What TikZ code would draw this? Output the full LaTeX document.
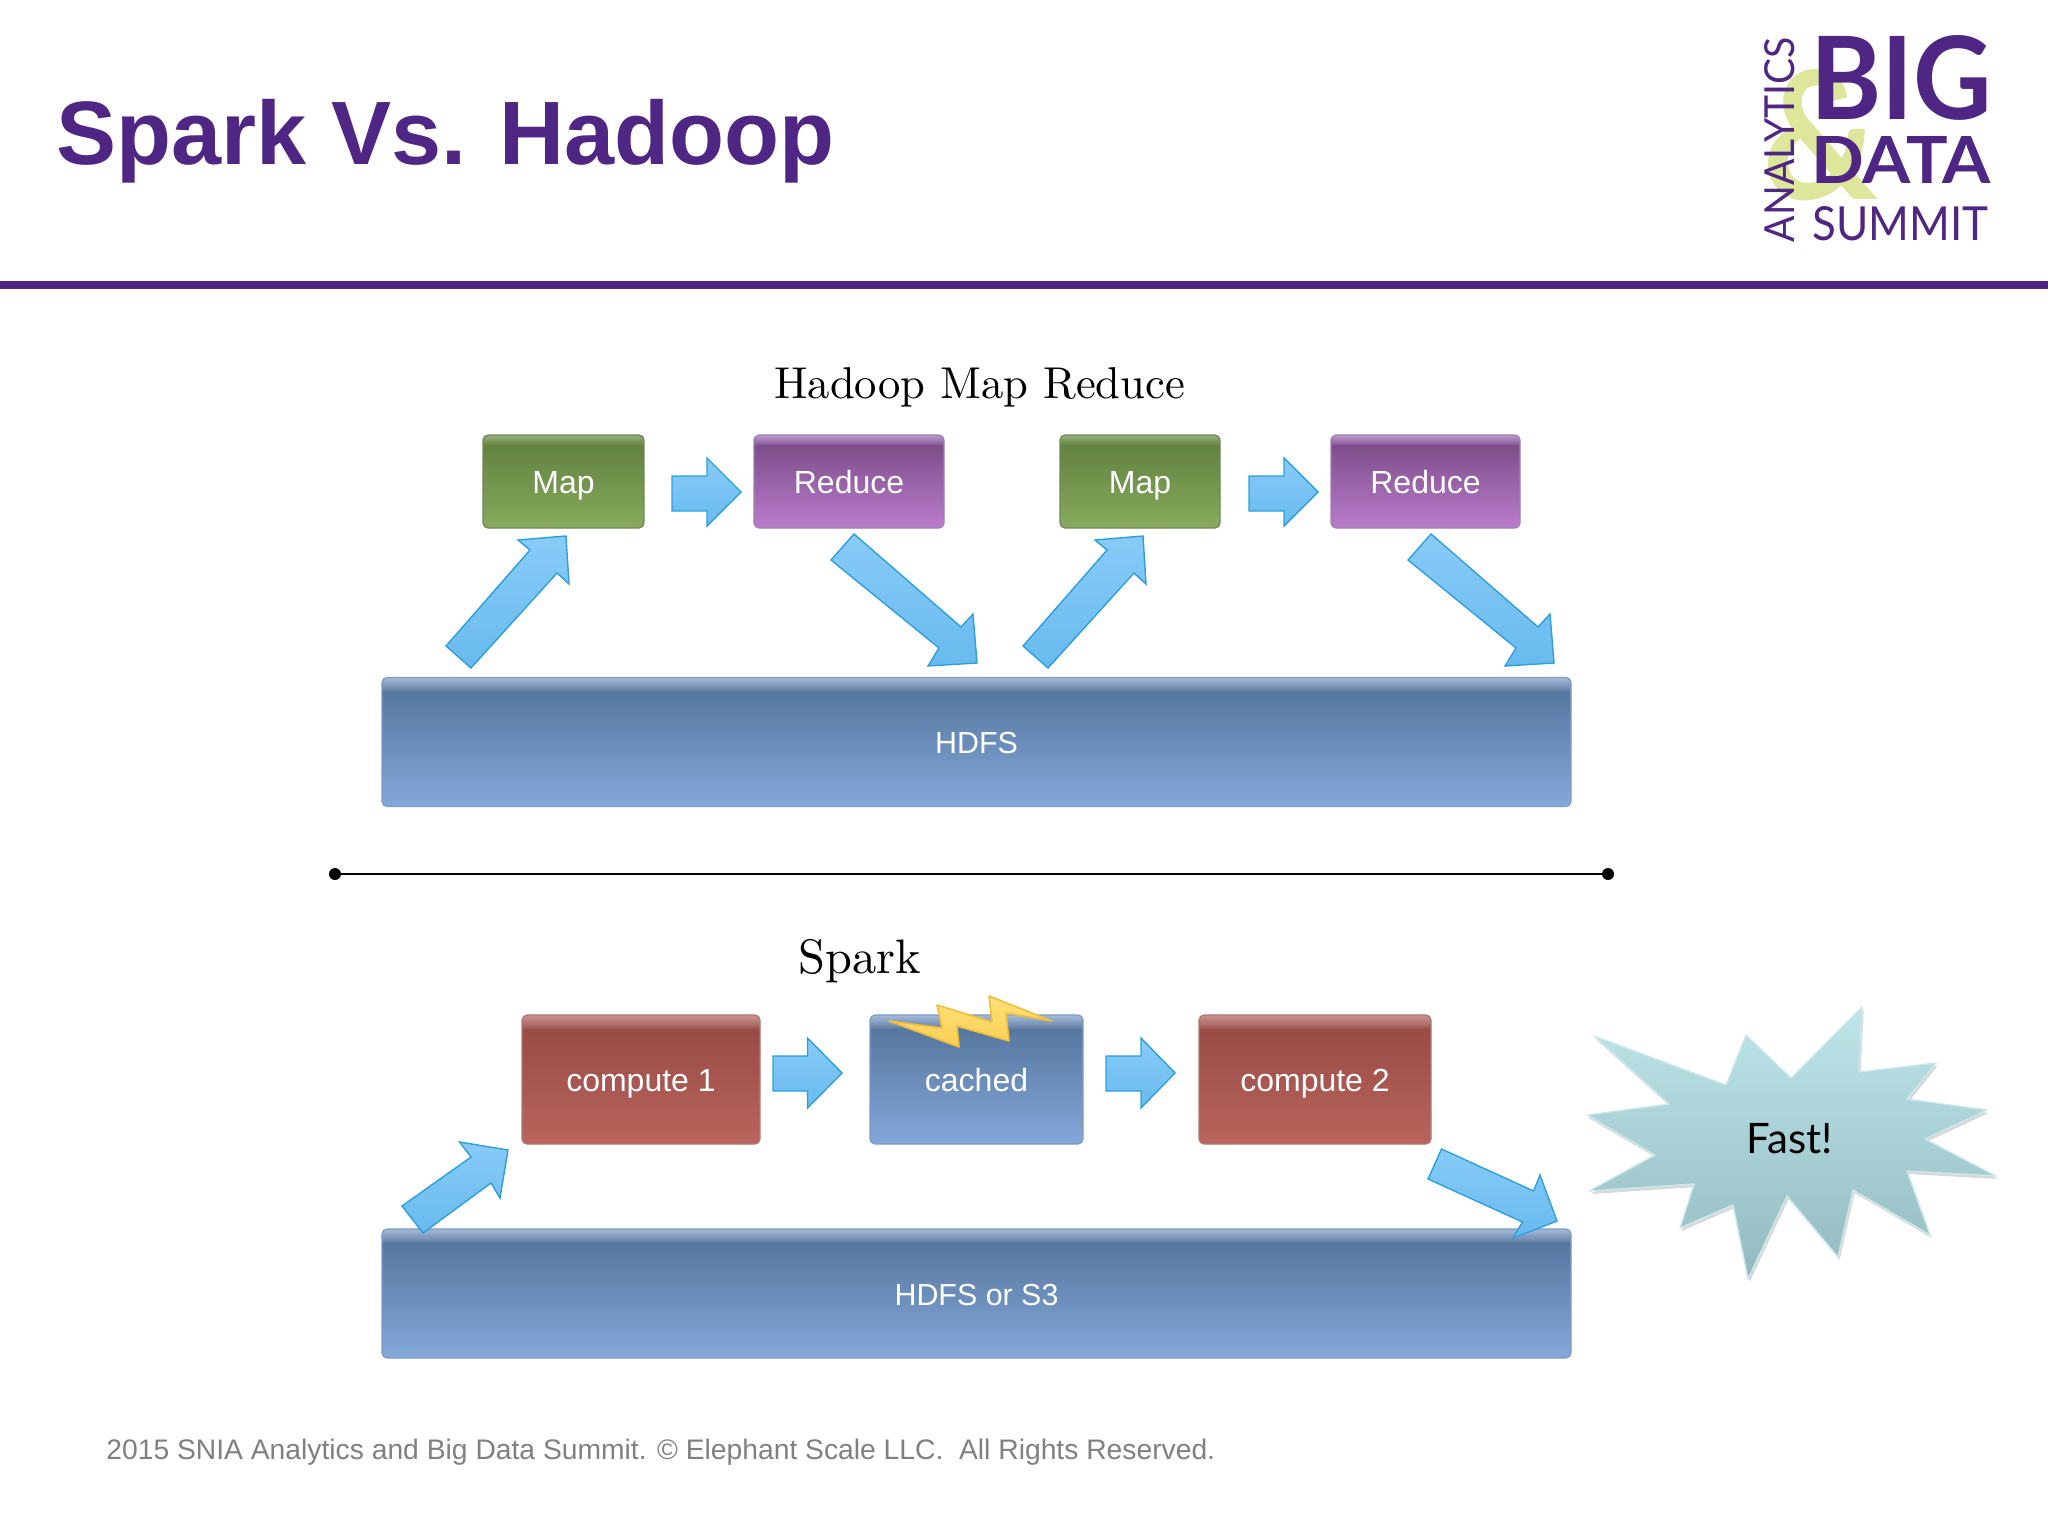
\documentclass[tikz,border=0pt]{standalone}
\usepackage{fontspec}
\usepackage{graphicx}
\setmainfont{Liberation Sans}
\newfontfamily\serifhead[Extension=.otf]{lmroman10-regular}
\newfontfamily\logofont{Lato}
\usetikzlibrary{shadows}
\definecolor{brandpurple}{HTML}{4F2683}
\definecolor{logolime}{HTML}{DDE69B}
\definecolor{footgray}{HTML}{808080}
\definecolor{arrowline}{HTML}{2F9FDC}
\definecolor{arrowtop}{RGB}{136,203,248}
\definecolor{arrowbot}{RGB}{104,186,238}
\definecolor{grnlow}{RGB}{135,170,93}
\definecolor{grndark}{RGB}{99,131,64}
\definecolor{grnmid}{RGB}{115,145,82}
\definecolor{grnhi}{RGB}{150,175,125}
\definecolor{grnline}{RGB}{110,135,85}
\definecolor{purlow}{RGB}{186,124,203}
\definecolor{purdark}{RGB}{126,78,140}
\definecolor{purmid}{RGB}{150,105,165}
\definecolor{purhi}{RGB}{190,150,205}
\definecolor{purline}{RGB}{160,125,180}
\definecolor{redlow}{RGB}{185,101,94}
\definecolor{reddark}{RGB}{153,75,69}
\definecolor{redmid}{RGB}{170,105,100}
\definecolor{redhi}{RGB}{200,145,140}
\definecolor{redline}{RGB}{175,120,115}
\definecolor{blulow}{RGB}{132,168,218}
\definecolor{bludark}{RGB}{86,119,159}
\definecolor{blumid}{RGB}{115,142,178}
\definecolor{bluhi}{RGB}{165,186,216}
\definecolor{bluline}{RGB}{125,155,195}
\definecolor{boltline}{RGB}{240,190,60}
\definecolor{bolttop}{RGB}{255,226,120}
\definecolor{boltbot}{RGB}{252,205,85}
\definecolor{starline}{RGB}{205,232,234}
\definecolor{startop}{RGB}{190,230,233}
\definecolor{starbot}{RGB}{146,186,192}
\pgfdeclareverticalshading{grnbox}{100bp}{color(0bp)=(grnlow); color(25bp)=(grnlow); color(69.5bp)=(grndark); color(71bp)=(grnmid); color(75bp)=(grnhi); color(100bp)=(grnhi)}
\pgfdeclareverticalshading{purbox}{100bp}{color(0bp)=(purlow); color(25bp)=(purlow); color(69.5bp)=(purdark); color(71bp)=(purmid); color(75bp)=(purhi); color(100bp)=(purhi)}
\pgfdeclareverticalshading{redbox}{100bp}{color(0bp)=(redlow); color(25bp)=(redlow); color(69.5bp)=(reddark); color(71bp)=(redmid); color(75bp)=(redhi); color(100bp)=(redhi)}
\pgfdeclareverticalshading{blubox}{100bp}{color(0bp)=(blulow); color(25bp)=(blulow); color(69.5bp)=(bludark); color(71bp)=(blumid); color(75bp)=(bluhi); color(100bp)=(bluhi)}
\newcommand{\fitbox}[3]{\resizebox{#1pt}{#2pt}{#3}}
\tikzset{
  x=0.5pt,y=-0.5pt,
  flowbox/.style={rectangle,rounded corners=2.5pt,shade,inner sep=0pt,text=white,
    font=\fontsize{16}{18}\selectfont,line width=0.6pt,text height=11.5pt,text depth=0pt},
  grnstyle/.style={flowbox,shading=grnbox,draw=grnline},
  purstyle/.style={flowbox,shading=purbox,draw=purline},
  redstyle/.style={flowbox,shading=redbox,draw=redline},
  blustyle/.style={flowbox,shading=blubox,draw=bluline},
  storestyle/.style={blustyle,font=\fontsize{15.2}{18}\selectfont},
  blockarrow/.style={draw=arrowline,line width=0.7pt,line join=miter,top color=arrowtop,bottom color=arrowbot},
  heading/.style={text=black,inner sep=0pt,anchor=base west},
  logotext/.style={inner sep=0pt,anchor=south west,text=brandpurple,font=\logofont},
}
\begin{document}
\begin{tikzpicture}
\useasboundingbox (0,0) rectangle (2048,1536);
\fill[white] (0,0) rectangle (2048,1536);
% header
\node[inner sep=0pt,anchor=base west,text=brandpurple,font=\bfseries\fontsize{45}{50}\selectfont] (title) at (56,164) {Spark Vs. Hadoop};
\fill[brandpurple] (0,281) rectangle (2048,289);
% logo
\node[inner sep=0pt,anchor=center,text=logolime,font=\logofont\bfseries] (amp) at (1820,135) {\fitbox{58}{65}{\&}};
\node[logotext] (big) at (1810,121) {\fitbox{91}{42}{\textbf{BIG}}};
\node[logotext] (data) at (1811,184) {\fitbox{90}{23.5}{\textbf{DATA}}};
\node[logotext] (summit) at (1812,241) {\fitbox{88}{17}{SUMMIT}};
\node[logotext,anchor=center,rotate=90] (analytics) at (1780,139.5) {\fitbox{102.5}{15}{ANALYTICS}};
% Hadoop
\node[heading,font=\serifhead\fontsize{22.3}{26}\selectfont] (hadoophead) at (774,398) {Hadoop Map Reduce};
\node[grnstyle,minimum width=80.5pt,minimum height=46.5pt] (map1) at (563.5,481.5) {Map};
\node[purstyle,minimum width=95pt,minimum height=46.5pt] (red1) at (849,481.5) {Reduce};
\node[grnstyle,minimum width=80pt,minimum height=46.5pt] (map2) at (1140,481.5) {Map};
\node[purstyle,minimum width=94.5pt,minimum height=46.5pt] (red2) at (1425.5,481.5) {Reduce};
\node[storestyle,minimum width=594.5pt,minimum height=64.5pt] (hdfs) at (976.5,742) {HDFS};
\foreach \dx in {0,577}{
  \begin{scope}[xshift=\dx*0.5pt]
  \draw[blockarrow] (446,646)--(471,668)--(557,573)--(569,584)--(566,536)--(518,540)--(530,550)--cycle;
  \draw[blockarrow] (854,534)--(831,560)--(939,648)--(928,666)--(977,663)--(973,614)--(961,627)--cycle;
  \draw[blockarrow] (672,476)--(707,476)--(707,458)--(741,492)--(707,526)--(707,511)--(672,511)--cycle;
  \end{scope}
}
% divider
\coordinate (dl) at (335,874);
\coordinate (dr) at (1608,874);
\draw[black,line width=1pt] (dl)--(dr);
\fill[black] (dl) circle (3pt);
\fill[black] (dr) circle (3pt);
% Spark
\node[heading,font=\serifhead\fontsize{24.2}{26}\selectfont] (sparkhead) at (798,973) {Spark};
\node[redstyle,minimum width=119pt,minimum height=64.5pt] (comp1) at (641,1079.5) {compute 1};
\node[blustyle,minimum width=106.5pt,minimum height=64.5pt] (cached) at (976.5,1079.5) {cached};
\node[redstyle,minimum width=116pt,minimum height=64.5pt] (comp2) at (1315,1079.5) {compute 2};
\node[storestyle,minimum width=594.5pt,minimum height=64.5pt] (hdfss) at (976.5,1293.5) {HDFS or S3};
\draw[blockarrow] (773,1056)--(807.5,1056)--(807.5,1038)--(842,1073)--(807.5,1108)--(807.5,1091)--(773,1091)--cycle;
\draw[blockarrow] (1106,1056)--(1141,1056)--(1141,1038)--(1175,1073)--(1141,1108)--(1141,1091)--(1106,1091)--cycle;
\draw[blockarrow] (402,1206)--(423,1233)--(491,1183)--(500,1198)--(508,1150)--(459.5,1142)--(471,1157)--cycle;
\draw[blockarrow] (1441.5,1149)--(1428,1179)--(1522.5,1222)--(1513,1238)--(1557,1221)--(1540,1175)--(1533.6,1191)--cycle;
% lightning
\draw[draw=boltline,line width=0.8pt,line join=round,top color=bolttop,bottom color=boltbot]
 (889,1021)--(942,1028)--(937,1005)--(992,1022)--(989,996)--(1052,1021)--(1006,1013)--(1009,1041)--(957,1026)--(959,1047)--cycle;
% star
\draw[draw=starline,line width=0.7pt,line join=round,top color=startop,bottom color=starbot,drop shadow={shadow xshift=0.8pt,shadow yshift=-1.5pt,opacity=0.3}]
 (1862,1007)--(1859,1072)--(1936,1063)--(1907,1099)--(1987,1110)--(1925,1139)--(1996,1176)--(1907,1171)--(1930,1235)--(1853,1190)--(1838,1257)--(1787,1196)--(1748,1279)--(1733,1205)--(1680,1228)--(1694,1184)--(1589,1191)--(1655,1155)--(1587,1115)--(1669,1104)--(1594,1036)--(1726,1085)--(1746,1035)--(1791,1078)--cycle;
\node[inner sep=0pt,text=black,font=\logofont\fontsize{21}{24}\selectfont] (fast) at (1790,1139) {Fast!};
% footer
\node[inner sep=0pt,anchor=base west,text=footgray,font=\fontsize{14.13}{16}\selectfont] (foot) at (106,1459) {2015 SNIA Analytics and Big Data Summit. © Elephant Scale LLC.\ \ All Rights Reserved.};
\end{tikzpicture}
\end{document}
